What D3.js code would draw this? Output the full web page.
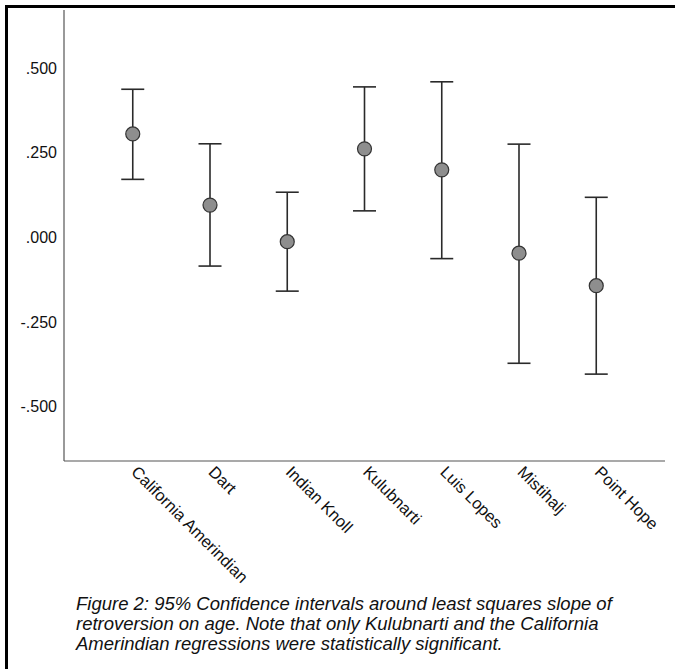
<!DOCTYPE html>
<html><head><meta charset="utf-8">
<script src="https://cdn.jsdelivr.net/npm/d3@7"></script>
<style>body{margin:0;background:#fff}svg{display:block}</style>
</head><body>
<script>
const categories = ["California Amerindian","Dart","Indian Knoll","Kulubnarti","Luis Lopes","Mistihalj","Point Hope"];
const estimates = [0.305, 0.095, -0.013, 0.261, 0.199, -0.047, -0.143];
const lowerCI = [0.171, -0.085, -0.159, 0.078, -0.063, -0.372, -0.404];
const upperCI = [0.437, 0.276, 0.133, 0.444, 0.459, 0.275, 0.118];
const yTicks = [0.5, 0.25, 0, -0.25, -0.5];
const captionLines = [
  "Figure 2: 95% Confidence intervals around least squares slope of",
  "retroversion on age. Note that only Kulubnarti and the California",
  "Amerindian regressions were statistically significant."
];

(function () {
const W = 675, H = 669;
const svg = d3.select("body").append("svg").attr("width", W).attr("height", H);
svg.append("rect").attr("width", W).attr("height", H).attr("fill", "#fff");

// frame (top and left)
svg.append("line").attr("x1", 5).attr("x2", W).attr("y1", 6.5).attr("y2", 6.5).attr("stroke", "#000").attr("stroke-width", 3);
svg.append("line").attr("x1", 6.5).attr("x2", 6.5).attr("y1", 5).attr("y2", H).attr("stroke", "#000").attr("stroke-width", 3);

const pl = 64, pr = 665, pt = 10, pb = 461;
const y = d3.scaleLinear().domain([-0.6605, 0.671]).range([pb, pt]);
const x = d3.scalePoint().domain(categories).range([pl, pr]).padding(0.89);

svg.append("line").attr("x1", pl).attr("x2", pl).attr("y1", pt).attr("y2", pb).attr("stroke", "#555").attr("stroke-width", 1.2);
svg.append("line").attr("x1", pl).attr("x2", pr).attr("y1", pb).attr("y2", pb).attr("stroke", "#555").attr("stroke-width", 1.2);

const fmt = v => { const s = v.toFixed(3); return s.replace(/^(-?)0\./, "$1."); };
const yAxis = d3.axisLeft(y).tickValues(yTicks).tickSize(0).tickPadding(7).tickFormat(fmt);
const gy = svg.append("g").attr("transform", `translate(${pl},0)`).call(yAxis);
gy.select(".domain").remove();
gy.selectAll("text").attr("font-family", "Liberation Sans, Arial, sans-serif").attr("font-size", 16).attr("fill", "#111");

const xAxis = d3.axisBottom(x).tickSize(0).tickPadding(0);
const gx = svg.append("g").attr("transform", `translate(0,${pb})`).call(xAxis);
gx.select(".domain").remove();
gx.selectAll("text")
  .attr("font-family", "Liberation Sans, Arial, sans-serif").attr("font-size", 16.5).attr("fill", "#111")
  .attr("text-anchor", "start").attr("y", 0).attr("dy", 0)
  .attr("transform", "translate(-3,12) rotate(45)");

const data = categories.map((c, i) => ({c, est: estimates[i], lo: lowerCI[i], hi: upperCI[i]}));
const g = svg.append("g");
const capW = 11.5;
g.selectAll(".v").data(data).join("line")
  .attr("x1", d => x(d.c)).attr("x2", d => x(d.c))
  .attr("y1", d => y(d.hi)).attr("y2", d => y(d.lo))
  .attr("stroke", "#2a2a2a").attr("stroke-width", 1.6);
g.selectAll(".ct").data(data).join("line")
  .attr("x1", d => x(d.c) - capW).attr("x2", d => x(d.c) + capW)
  .attr("y1", d => y(d.hi)).attr("y2", d => y(d.hi))
  .attr("stroke", "#2a2a2a").attr("stroke-width", 1.6);
g.selectAll(".cb").data(data).join("line")
  .attr("x1", d => x(d.c) - capW).attr("x2", d => x(d.c) + capW)
  .attr("y1", d => y(d.lo)).attr("y2", d => y(d.lo))
  .attr("stroke", "#2a2a2a").attr("stroke-width", 1.6);
g.selectAll("circle").data(data).join("circle")
  .attr("cx", d => x(d.c)).attr("cy", d => y(d.est)).attr("r", 7)
  .attr("fill", "#8e8e8e").attr("stroke", "#333").attr("stroke-width", 1.2);

const cap = svg.append("text").attr("x", 76).attr("y", 610)
  .attr("font-family", "Liberation Sans, Arial, sans-serif").attr("font-size", 18.5).attr("font-style", "italic").attr("fill", "#111");
cap.selectAll("tspan").data(captionLines).join("tspan")
  .attr("x", 76).attr("dy", (d, i) => i === 0 ? 0 : 20).text(d => d);
})();
</script>
</body></html>
